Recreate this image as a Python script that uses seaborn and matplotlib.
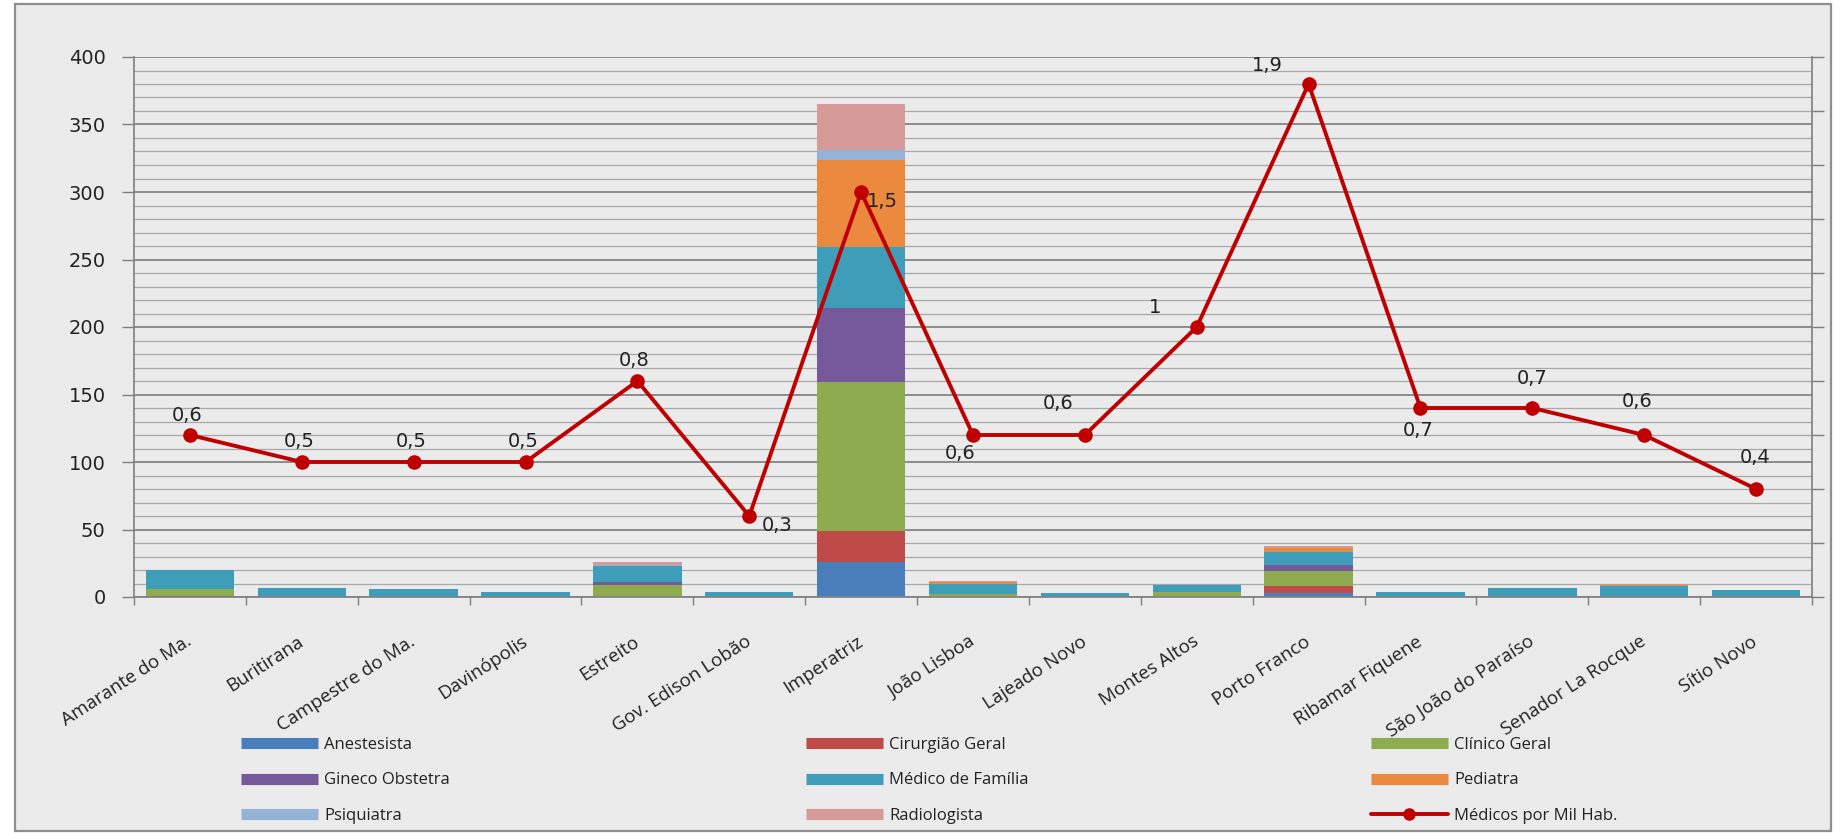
import numpy as np
import pandas as pd
import matplotlib
matplotlib.use("Agg")
import matplotlib.pyplot as plt
import seaborn as sns
from matplotlib.lines import Line2D
from matplotlib.patches import Rectangle
from matplotlib.ticker import MultipleLocator, FixedLocator, NullFormatter

# ---------------- data ----------------
municipios = ["Amarante do Ma.", "Buritirana", "Campestre do Ma.", "Davinópolis", "Estreito",
              "Gov. Edison Lobão", "Imperatriz", "João Lisboa", "Lajeado Novo", "Montes Altos",
              "Porto Franco", "Ribamar Fiquene", "São João do Paraíso", "Senador La Rocque", "Sítio Novo"]
anestesista    = [0, 0, 0, 0, 0, 0, 26, 0, 0, 0, 3, 0, 0, 0, 0]
cirurgiao      = [1, 0, 0, 0, 0, 0, 23, 0, 0, 0, 5, 0, 0, 0, 0]
clinico        = [5, 0, 0, 0, 9, 0, 110, 2, 0, 4, 11, 0, 0, 0, 0]
gineco         = [0, 0, 0, 0, 2, 0, 55, 0, 0, 0, 5, 0, 0, 0, 0]
medico_familia = [14, 7, 6, 4, 12, 4, 45, 8, 3, 5, 9, 4, 7, 8, 5]
pediatra       = [0, 0, 0, 0, 0, 0, 65, 1, 0, 0, 3, 0, 0, 1, 0]
psiquiatra     = [0, 0, 0, 0, 1, 0, 7, 0, 0, 0, 0, 0, 0, 0, 0]
radiologista   = [0, 0, 0, 0, 2, 0, 34, 1, 0, 0, 2, 0, 0, 0, 0]
medicos_mil    = [0.6, 0.5, 0.5, 0.5, 0.8, 0.3, 1.5, 0.6, 0.6, 1.0, 1.9, 0.7, 0.7, 0.6, 0.4]

series_names = ["Anestesista", "Cirurgião Geral", "Clínico Geral", "Gineco Obstetra",
                "Médico de Família", "Pediatra", "Psiquiatra", "Radiologista"]
line_name = "Médicos por Mil Hab."

# ---------------- style ----------------
colors = ["#4A7EBB", "#BE4B48", "#8EAB50", "#76599A", "#3E9DB8", "#EB8A3E", "#95B3D7", "#D69B99"]
line_color = "#C00000"
# label offsets (points) for the line's data labels
label_offsets = [(-2, 14), (-2, 15), (-2, 15), (-2, 15), (-2, 15), (20, -7), (15, -7), (-9, -13),
                 (-19, 23), (-30, 14), (-30, 13), (-2, -16), (0, 21), (-5, 24), (-1, 23)]

sns.set_theme(style="ticks")
plt.rcParams["font.family"] = ["DejaVu Sans"]

W, H = 1846, 833
fig = plt.figure(figsize=(W / 100, H / 100), dpi=100, facecolor="white")
fig.patches.append(Rectangle((15 / W, 2 / H), (1831 - 15) / W, (829 - 2) / H,
                             transform=fig.transFigure, facecolor="#EBEBEB",
                             edgecolor="#8F8F8F", lw=1.6, zorder=-10))

ax = fig.add_axes([134 / W, 1 - 597 / H, (1812 - 134) / W, (597 - 57) / H])
ax.set_facecolor("none")
ax.set_axisbelow(True)

df = pd.DataFrame({"municipio": municipios})
layers = [anestesista, cirurgiao, clinico, gineco, medico_familia, pediatra, psiquiatra, radiologista]
cum = np.cumsum(np.array(layers, dtype=float), axis=0)
for k in range(len(layers) - 1, -1, -1):
    df["v"] = cum[k]
    sns.barplot(data=df, x="municipio", y="v", order=municipios, color=colors[k],
                saturation=1, width=0.79, errorbar=None, linewidth=0, edgecolor="none", ax=ax)

ax.set_ylim(0, 400)
ax.set_xlim(-0.5, len(municipios) - 0.5)
ax.yaxis.set_major_locator(MultipleLocator(50))
ax.yaxis.set_minor_locator(MultipleLocator(10))
ax.grid(which="major", axis="y", color="#858585", lw=1.3)
ax.grid(which="minor", axis="y", color="#A8A8A8", lw=0.9)
ax.set_xlabel("")
ax.set_ylabel("")
ax.tick_params(axis="y", which="major", length=8.5, width=1.0, color="#7F7F7F",
               labelsize=14, pad=12, labelcolor="#222222")
ax.tick_params(axis="y", which="minor", length=0)
ax.xaxis.set_minor_locator(FixedLocator(np.arange(-0.5, len(municipios), 1.0)))
ax.tick_params(axis="x", which="minor", length=6, width=1.0, color="#7F7F7F")
ax.tick_params(axis="x", which="major", length=0, pad=31, labelcolor="#222222")
for lab in ax.get_xticklabels():
    lab.set_rotation(33)
    lab.set_ha("right")
    lab.set_va("center")
    lab.set_rotation_mode("anchor")
    lab.set_fontfamily("Open Sans")
    lab.set_fontsize(13.5)
for s in ["top", "right"]:
    ax.spines[s].set_visible(False)
for s in ["left", "bottom"]:
    ax.spines[s].set_color("#7F7F7F")
    ax.spines[s].set_linewidth(1.2)

# ---------------- line on secondary axis ----------------
ax2 = ax.twinx()
x_idx = np.arange(len(municipios))
sns.lineplot(x=x_idx, y=medicos_mil, ax=ax2, color=line_color, lw=2.8, marker="o",
             markersize=10.5, markeredgecolor=line_color, markeredgewidth=0)
ax2.set_ylim(0, 2)
ax2.set_xlim(-0.5, len(municipios) - 0.5)
ax2.yaxis.set_major_locator(MultipleLocator(0.2))
ax2.yaxis.set_major_formatter(NullFormatter())
ax2.tick_params(axis="y", which="major", length=8.5, width=1.0, color="#7F7F7F")
ax2.set_ylabel("")
ax2.set_xlabel("")
for s in ["top", "left", "bottom"]:
    ax2.spines[s].set_visible(False)
ax2.spines["right"].set_color("#7F7F7F")
ax2.spines["right"].set_linewidth(1.2)

for i, v in enumerate(medicos_mil):
    txt = f"{v:g}".replace(".", ",")
    ax2.annotate(txt, (i, v), xytext=label_offsets[i], textcoords="offset points",
                 ha="center", va="center", fontsize=14, color="#222222")

# ---------------- legend (three columns) ----------------
def bar_handle(c):
    return Line2D([], [], color=c, lw=8, solid_capstyle="butt")

line_handle = Line2D([], [], color=line_color, lw=2.8, marker="o", markersize=8)
cols = [[0, 3, 6], [1, 4, 7], [2, 5, None]]
col_x = [241, 806, 1371]
for cx, idxs in zip(col_x, cols):
    hs, ls = [], []
    for j in idxs:
        if j is None:
            hs.append(line_handle)
            ls.append(line_name)
        else:
            hs.append(bar_handle(colors[j]))
            ls.append(series_names[j])
    leg = fig.legend(hs, ls, loc="upper left", bbox_to_anchor=(cx / W, 1 - 737 / H),
                     frameon=False, handlelength=4.6, handletextpad=0.4,
                     labelspacing=1.16, borderpad=0, borderaxespad=0, numpoints=1,
                     prop={"family": "Open Sans", "size": 12})
    for t in leg.get_texts():
        t.set_color("#222222")

fig.savefig("out.png", dpi=100, facecolor="white")
